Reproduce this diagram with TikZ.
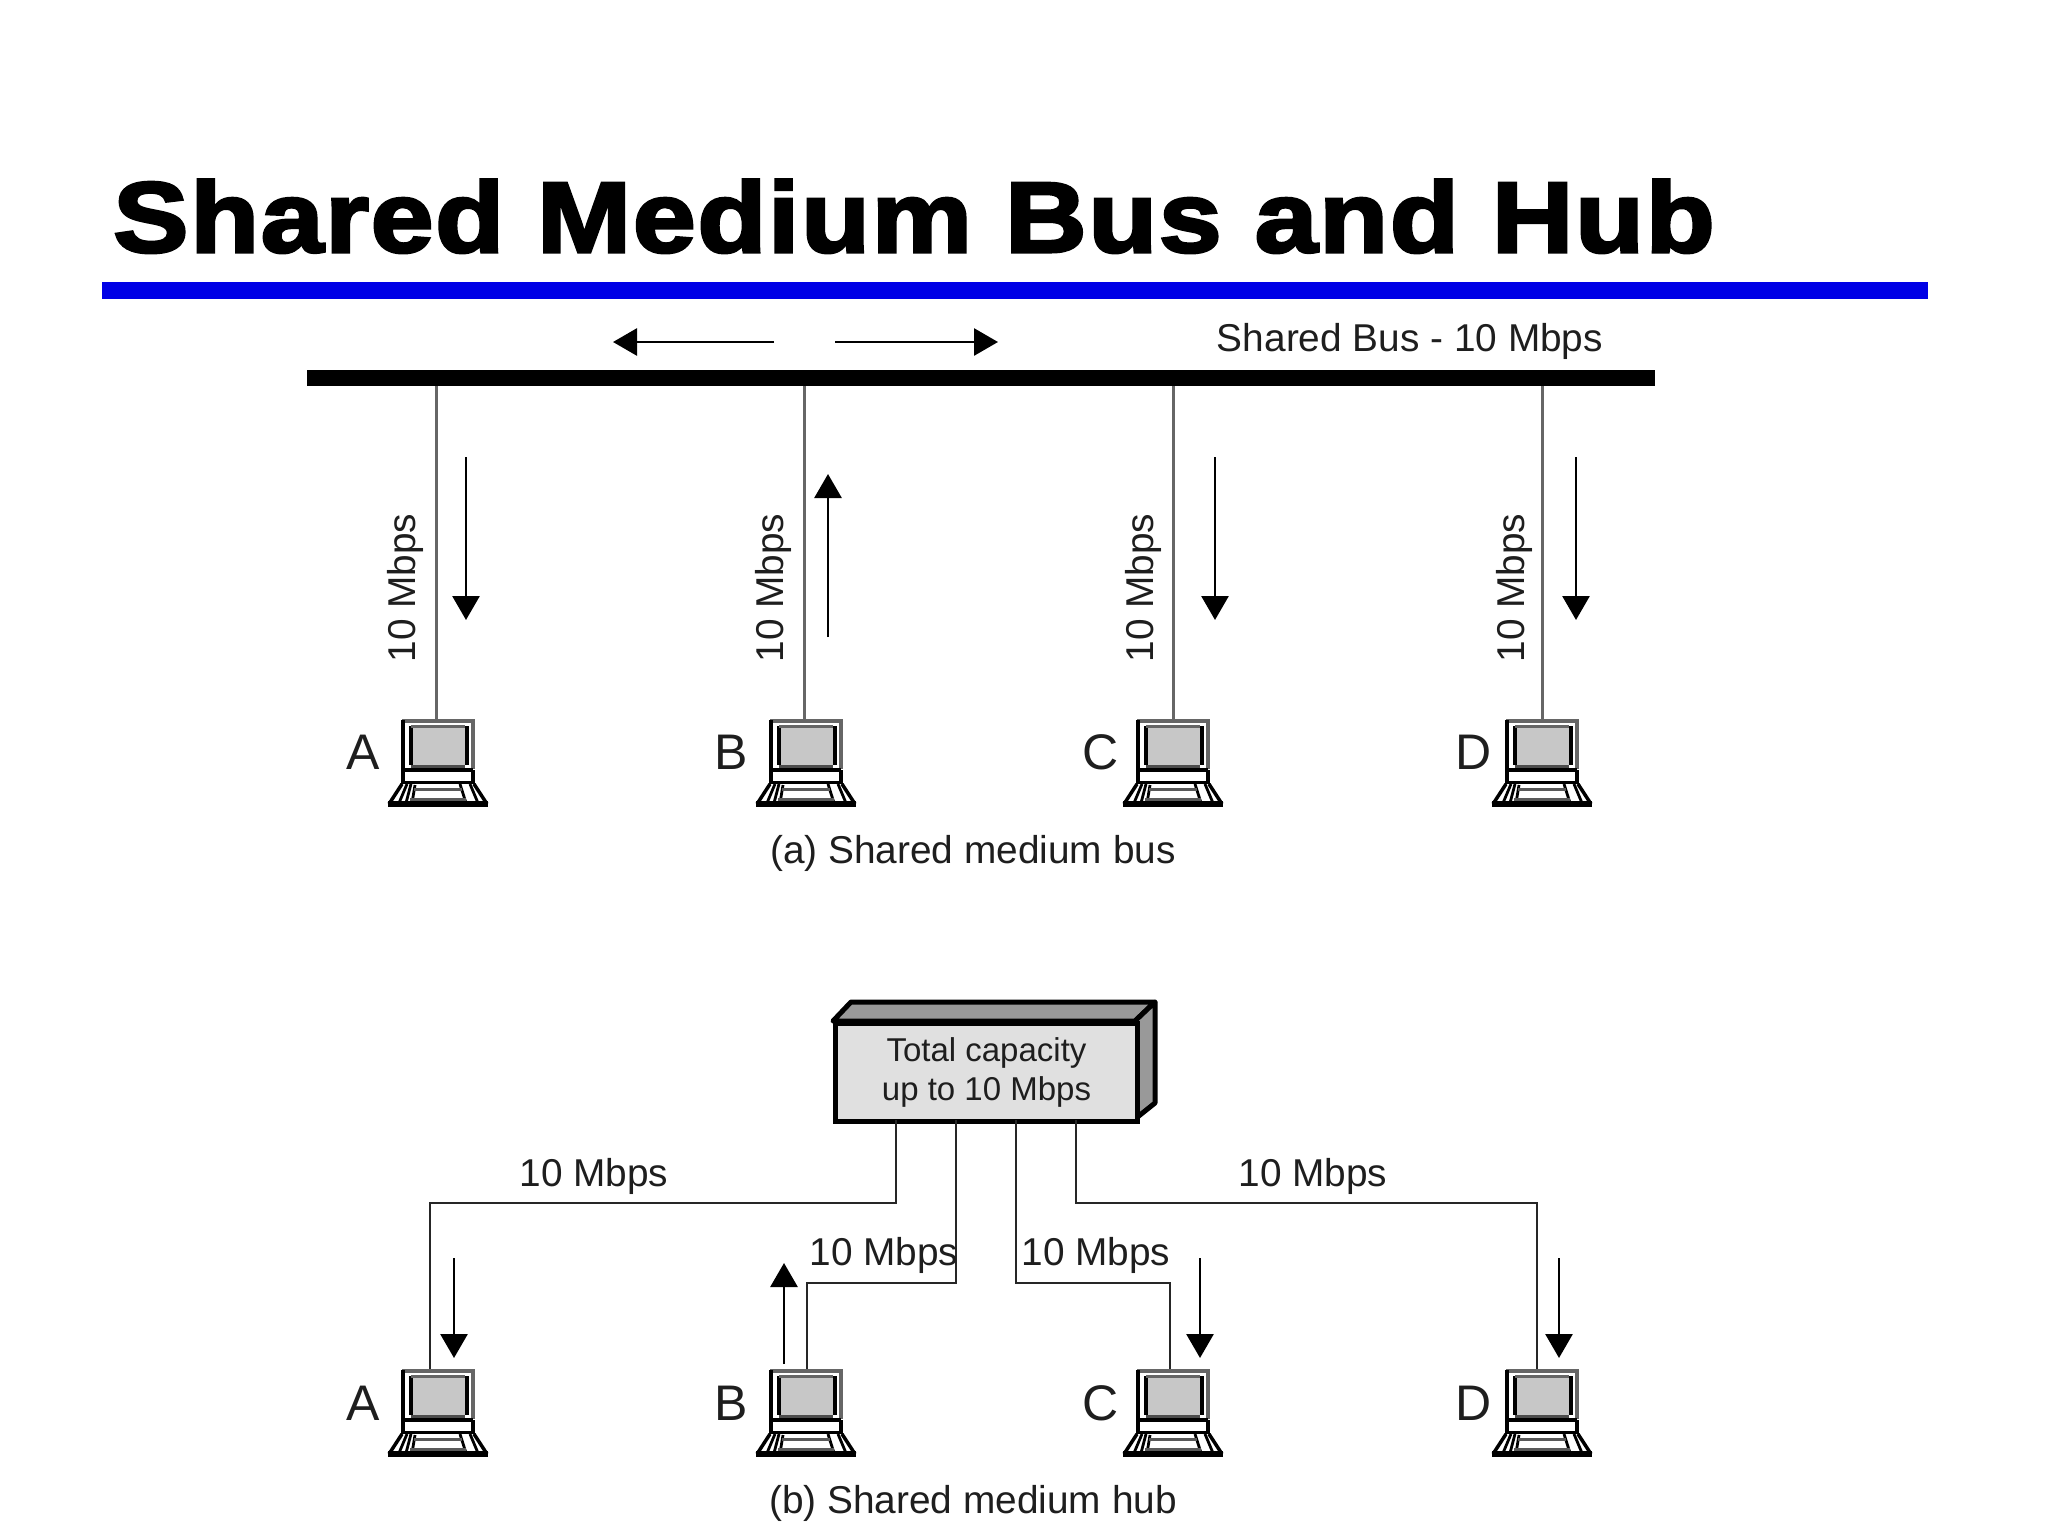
\documentclass[tikz,border=0pt]{standalone}
\usepackage{fontspec}
\setmainfont{Liberation Sans}
\newfontfamily\titlefont[FakeBold=3,FakeStretch=1.13,LetterSpace=1.6]{Liberation Sans Bold}
\usetikzlibrary{arrows.meta,calc}
\definecolor{ink}{HTML}{1E1E1E}
\definecolor{titleblue}{HTML}{0000E6}
\tikzset{
  x=1pt,y=-1pt,
  lbl/.style={inner sep=0pt,text=ink,font=\fontsize{38.8}{38.8}\selectfont},
  letter/.style={inner sep=0pt,text=ink,font=\fontsize{50}{50}\selectfont},
  caption/.style={inner sep=0pt,text=ink,font=\fontsize{38.8}{38.8}\selectfont},
  droplink/.style={draw=black!60,line width=3pt},
  hublink/.style={draw=black!85,line width=2.8pt},
  flow/.style={draw=black,line width=2.8pt,-{Triangle[length=24pt,width=27pt]}},
  computer/.pic={
    \coordinate (-top) at (0,0);
    \fill[white] (-36,0) rectangle (35,64);
    \draw[black!60,line width=4pt] (-36,2) -- (35,2) -- (35,50);
    \draw[black,line width=4pt] (-35,1) -- (-35,51) -- (35,51);
    \fill[black!22] (-27,7) rectangle (27,46);
    \draw[black,line width=4pt] (-27,7) -- (-27,46);
    \draw[black,line width=3.5pt] (29,7) -- (29,46);
    \draw[black!60,line width=3pt] (-27,7) -- (27,7);
    \draw[black!70,line width=3pt] (-27,47) -- (27,47);
    \draw[black,line width=3.5pt] (-35,51) -- (-35,64) -- (35,64) -- (35,51);
    \fill[white] (-33,54) rectangle (33,62);
    \draw[black,line width=4pt] (-35,64) -- (35,64);
    \fill[white] (-35,65) -- (35,65) -- (49,85) -- (-49,85) -- cycle;
    \draw[black,line width=3.5pt] (-36,65) -- (-49,85) (36,65) -- (49,85);
    \draw[black,line width=2.8pt] (-27,65) -- (-32,84) (-31,65) -- (-39,84) (-23,66) -- (-26,84) (22,65) -- (28,84) (32,65) -- (40,84);
    \draw[black!65,line width=3pt] (-24,70) -- (24,70) (-28,80) -- (28,80);
    \draw[black,line width=6pt] (-50,85) -- (50,85);
  }
}
\begin{document}
\begin{tikzpicture}
\useasboundingbox (0,0) rectangle (2048,1536);
\fill[white] (0,0) rectangle (2048,1536);
% title
\node[inner sep=0pt,anchor=base west] (title) at (113,252) {\titlefont\fontsize{100}{100}\selectfont Shared Medium Bus and Hub};
\node[fill=titleblue,inner sep=0pt,minimum width=1826pt,minimum height=17pt,anchor=north west] (rule) at (102,282) {};
% (a) bus
\node[fill=black,inner sep=0pt,minimum width=1348pt,minimum height=16pt,anchor=north west] (bus) at (307,370) {};
\coordinate (la) at (774,342); \coordinate (lb) at (613,342);
\coordinate (ra) at (835,342); \coordinate (rb) at (998,342);
\draw[flow] (la) -- (lb);
\draw[flow] (ra) -- (rb);
\node[lbl] (bustext) at (1410,341) {Shared Bus - 10 Mbps};
\pic (a1) at (438,719) {computer};
\pic (b1) at (806,719) {computer};
\pic (c1) at (1173,719) {computer};
\pic (d1) at (1542,719) {computer};
\coordinate (a1p) at (436,719);
\coordinate (b1p) at (804,719);
\foreach \n in {a1p,b1p,c1-top,d1-top} \draw[droplink] (\n) -- (\n |- bus.south);
\coordinate (fa1) at (466,457); \coordinate (fa2) at (466,620);
\coordinate (fb1) at (828,637); \coordinate (fb2) at (828,474);
\coordinate (fc1) at (1215,457); \coordinate (fc2) at (1215,620);
\coordinate (fd1) at (1576,457); \coordinate (fd2) at (1576,620);
\draw[flow] (fa1) -- (fa2);
\draw[flow] (fb1) -- (fb2);
\draw[flow] (fc1) -- (fc2);
\draw[flow] (fd1) -- (fd2);
\node[lbl,rotate=90] (ra1) at (405,588) {10 Mbps};
\node[lbl,rotate=90] (rb1) at (773,588) {10 Mbps};
\node[lbl,rotate=90] (rc1) at (1143,588) {10 Mbps};
\node[lbl,rotate=90] (rd1) at (1514,588) {10 Mbps};
\node[letter] (ta1) at (363,752) {A};
\node[letter] (tb1) at (731,752) {B};
\node[letter] (tc1) at (1101,752) {C};
\node[letter] (td1) at (1474,752) {D};
\node[caption] (capa) at (973,853) {(a) Shared medium bus};
% (b) hub
\filldraw[fill=black!40,draw=black,line width=5pt,line join=round] (833,1021) -- (851,1002) -- (1155,1002) -- (1135,1021) -- cycle;
\filldraw[fill=black!40,draw=black,line width=5pt,line join=round] (1135,1021) -- (1155,1002) -- (1155,1103) -- (1135,1119) -- cycle;
\node[draw=black,line width=5pt,fill=black!12,inner sep=0pt,minimum width=302pt,minimum height=98pt,anchor=north west,
      align=center,text=ink,font=\fontsize{33}{39.5}\selectfont] (hub) at (833,1021) {Total capacity\\up to 10 Mbps};
\pic (a2) at (438,1369) {computer};
\pic (b2) at (806,1369) {computer};
\pic (c2) at (1173,1369) {computer};
\pic (d2) at (1542,1369) {computer};
\coordinate (h1) at (896,1120); \coordinate (h2) at (956,1120);
\coordinate (h3) at (1016,1120); \coordinate (h4) at (1076,1120);
\coordinate (e1) at (430,1369); \coordinate (e2) at (807,1369);
\coordinate (e3) at (1170,1369); \coordinate (e4) at (1537,1369);
\coordinate (hi) at (0,1203); \coordinate (lo) at (0,1283);
\draw[hublink] (h1) -- (h1 |- hi) -- (e1 |- hi) -- (e1);
\draw[hublink] (h2) -- (h2 |- lo) -- (e2 |- lo) -- (e2);
\draw[hublink] (h3) -- (h3 |- lo) -- (e3 |- lo) -- (e3);
\draw[hublink] (h4) -- (h4 |- hi) -- (e4 |- hi) -- (e4);
\coordinate (ga1) at (454,1258); \coordinate (ga2) at (454,1358);
\coordinate (gb1) at (784,1364); \coordinate (gb2) at (784,1263);
\coordinate (gc1) at (1200,1258); \coordinate (gc2) at (1200,1358);
\coordinate (gd1) at (1559,1258); \coordinate (gd2) at (1559,1358);
\draw[flow] (ga1) -- (ga2);
\draw[flow] (gb1) -- (gb2);
\draw[flow] (gc1) -- (gc2);
\draw[flow] (gd1) -- (gd2);
\node[lbl] (s1) at (594,1176) {10 Mbps};
\node[lbl] (s2) at (884,1255) {10 Mbps};
\node[lbl] (s3) at (1096,1255) {10 Mbps};
\node[lbl] (s4) at (1313,1176) {10 Mbps};
\node[letter] (ta2) at (363,1403) {A};
\node[letter] (tb2) at (731,1403) {B};
\node[letter] (tc2) at (1101,1403) {C};
\node[letter] (td2) at (1474,1403) {D};
\node[caption] (capb) at (973,1503) {(b) Shared medium hub};
\end{tikzpicture}
\end{document}
